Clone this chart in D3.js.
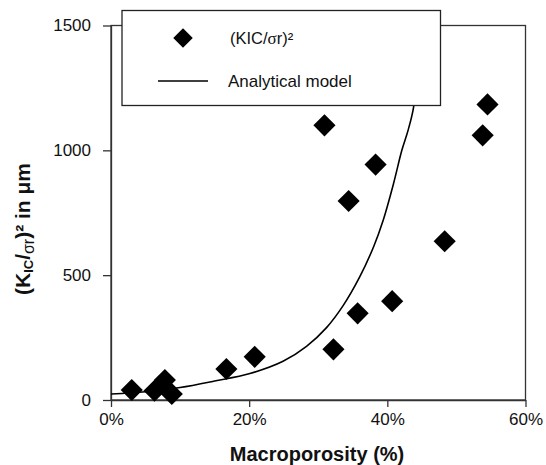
<!DOCTYPE html>
<html><head><meta charset="utf-8">
<script src="https://cdn.jsdelivr.net/npm/d3@7"></script>
<style>body{margin:0;background:#fff}svg{display:block}text{font-family:"Liberation Sans",Arial,sans-serif}</style>
</head><body><svg id="c" width="546" height="465"></svg>
<script>
// Data
const porosity = [3.0, 6.3, 7.8, 8.8, 16.7, 20.8, 30.9, 32.2, 34.4, 35.7, 38.3, 40.7, 48.3, 53.8, 54.5];
const kicRatio = [40, 37, 80, 24, 124, 173, 1100, 203, 797, 347, 943, 396, 636, 1060, 1184];
const modelPorosity = [0, 5, 10, 15, 20.1, 24.9, 28.3, 31.2, 33.6, 36.0, 38.0, 39.4, 40.9, 42.1, 43.0, 43.8, 44.3, 44.8];
const modelValue = [24, 33, 50, 76, 106, 155, 215, 290, 378, 493, 613, 720, 867, 1000, 1080, 1173, 1350, 1560];
const xTicks = [0, 20, 40, 60];
const yTicks = [0, 500, 1000, 1500];

const svg = d3.select("#c");
const X0 = 111, X1 = 525.5, Y0 = 400, Y1 = 25.5;
const x = d3.scaleLinear().domain([0, 60]).range([X0, X1]);
const y = d3.scaleLinear().domain([0, 1500]).range([Y0, Y1]);
const axisColor = "#333";

// frame
svg.append("rect").attr("x", X0).attr("y", Y1).attr("width", X1 - X0).attr("height", Y0 - Y1)
  .attr("fill", "none").attr("stroke", axisColor).attr("stroke-width", 1.3);

// axes
const xAxis = svg.append("g").attr("transform", `translate(0,${Y0})`)
  .call(d3.axisBottom(x).tickValues(xTicks).tickFormat(d => d + "%").tickSizeInner(7).tickSizeOuter(0).tickPadding(6));
const yAxis = svg.append("g").attr("transform", `translate(${X0},0)`)
  .call(d3.axisLeft(y).tickValues(yTicks).tickFormat(d3.format("d")).tickSizeInner(8).tickSizeOuter(0).tickPadding(12));
[xAxis, yAxis].forEach(g => {
  g.select(".domain").attr("stroke", axisColor).attr("stroke-width", 1.3);
  g.selectAll(".tick line").attr("stroke", axisColor).attr("stroke-width", 1.3);
  g.selectAll(".tick text").attr("font-size", 17).attr("fill", "#111")
    .style("font-family", '"Liberation Sans",Arial,sans-serif');
});

// clip for curve
svg.append("clipPath").attr("id", "clip").append("rect")
  .attr("x", X0).attr("y", Y1).attr("width", X1 - X0).attr("height", Y0 - Y1);

const curve = modelPorosity.map((p, i) => [p, modelValue[i]]);
svg.append("path").datum(curve).attr("clip-path", "url(#clip)")
  .attr("fill", "none").attr("stroke", "#000").attr("stroke-width", 1.6)
  .attr("d", d3.line().x(d => x(d[0])).y(d => y(d[1])).curve(d3.curveCatmullRom));

// points
const sym = d3.symbol(d3.symbolSquare, 245);
svg.append("g").selectAll("path").data(porosity.map((p, i) => [p, kicRatio[i]])).join("path")
  .attr("d", sym).attr("fill", "#000")
  .attr("transform", d => `translate(${x(d[0])},${y(d[1])}) rotate(45)`);

// legend
const lg = svg.append("g");
lg.append("rect").attr("x", 122).attr("y", 10.5).attr("width", 318.5).attr("height", 95)
  .attr("fill", "#fff").attr("stroke", "#222").attr("stroke-width", 1.3);
lg.append("path").attr("d", d3.symbol(d3.symbolSquare, 190)).attr("fill", "#000")
  .attr("transform", "translate(183,38) rotate(45)");
const t1 = lg.append("text").attr("x", 230).attr("y", 44).attr("font-size", 16.5).attr("fill", "#111");
t1.append("tspan").text("(KIC/");
t1.append("tspan").text("σ").style("font-family", '"Liberation Serif",serif').attr("font-size", 17);
t1.append("tspan").text("r)²");
lg.append("line").attr("x1", 158).attr("x2", 208).attr("y1", 81).attr("y2", 81)
  .attr("stroke", "#000").attr("stroke-width", 1.6);
lg.append("text").attr("x", 228).attr("y", 87).attr("font-size", 17).attr("fill", "#111").text("Analytical model");

// axis titles
svg.append("text").attr("x", 317).attr("y", 461).attr("text-anchor", "middle")
  .attr("font-size", 20).attr("font-weight", "bold").attr("fill", "#111").text("Macroporosity (%)");

const yt = svg.append("text").attr("transform", "translate(30,229) rotate(-90)")
  .attr("text-anchor", "middle").attr("font-size", 21).attr("font-weight", "bold").attr("fill", "#111");
yt.append("tspan").text("(K");
yt.append("tspan").text("IC").attr("font-size", 13).attr("dy", 3);
yt.append("tspan").text("/").attr("dy", -3);
yt.append("tspan").text("σr").attr("font-size", 16).attr("dy", 4).attr("font-weight", "normal");
yt.append("tspan").text(")² in μm").attr("dy", -4);
</script></body></html>
